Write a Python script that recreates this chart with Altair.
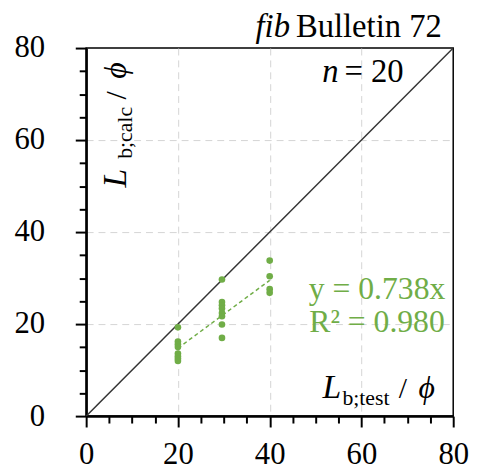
import altair as alt
import pandas as pd

# ---- data ----
test_x = [20, 20, 20, 20, 20, 20, 20, 20,
          29.6, 29.6, 29.6, 29.6, 29.6, 29.6, 29.6, 29.6,
          40, 40, 40, 40]
calc_y = [19.3, 16.2, 15.6, 15.0, 13.6, 13.0, 12.5, 12.0,
          29.7, 24.8, 24.1, 23.4, 22.4, 21.7, 19.9, 17.0,
          33.8, 30.4, 27.6, 26.8]
diag_x = [0, 80]
diag_y = [0, 80]
trend_x = [20, 40]
trend_y = [14.76, 29.52]
tick_values = list(range(0, 81, 5))

GREEN = "#70AD47"
FONT = "Liberation Serif"

pts = pd.DataFrame({"x": test_x, "y": calc_y})
diag = pd.DataFrame({"x": diag_x, "y": diag_y})
trend = pd.DataFrame({"x": trend_x, "y": trend_y})

major = "datum.value % 20 === 0"
inner = "datum.value % 20 === 0 && datum.value > 0 && datum.value < 80"


def make_axis(pad):
    return alt.Axis(
        values=tick_values,
        labelExpr=f"{major} ? datum.label : ''",
        labelFlush=False,
        labelOverlap=False,
        labelFont=FONT,
        labelFontSize=31,
        labelColor="black",
        labelPadding=pad,
        tickSize={"condition": {"test": major, "value": 11}, "value": 7},
        tickColor="black",
        tickWidth=2,
        domainColor="black",
        domainWidth=2.5,
        grid=True,
        gridColor="#d4d4d4",
        gridDash=[7, 5],
        gridWidth=1,
        gridOpacity={"condition": {"test": inner, "value": 1}, "value": 0},
        title=None,
    )


xs = alt.Scale(domain=[0, 80], nice=False, zero=False)
ys = alt.Scale(domain=[0, 80], nice=False, zero=False)
X = alt.X("x:Q", scale=xs, axis=make_axis(13))
Y = alt.Y("y:Q", scale=ys, axis=make_axis(31))

diag_layer = alt.Chart(diag).mark_line(color="#333333", strokeWidth=1.5, clip=True).encode(x=X, y=Y)
trend_layer = alt.Chart(trend).mark_line(color=GREEN, strokeWidth=1.5, strokeDash=[4, 3]).encode(x=X, y=Y)
pt_layer = alt.Chart(pts).mark_circle(color=GREEN, opacity=1, size=45).encode(x=X, y=Y)


def txt(s, px, py, size, color="black", style="normal", align="left", angle=0, baseline="alphabetic"):
    kw = dict(font=FONT, fontSize=size, color=color, fontStyle=style, align=align,
              baseline=baseline)
    if angle:
        kw["angle"] = angle
    return alt.Chart(pd.DataFrame({"a": [0]})).mark_text(**kw).encode(
        x=alt.value(px), y=alt.value(py), text=alt.value(s))


texts = [
    # title above plot
    txt("fib", 206, -11, 33, style="italic", align="right"),
    txt("Bulletin 72", 212, -11, 33),
    # n = 20
    txt("n", 255, 34, 33, style="italic", align="right"),
    txt("= 20", 261, 34, 33),
    # regression text
    txt("y = 0.738x", 294, 254, 32, color=GREEN, align="center"),
    txt("R² = 0.980", 294, 287, 32, color=GREEN, align="center"),
    # x label inside plot
    txt("L", 239, 354, 34, style="italic"),
    txt("b;test", 259, 361, 22),
    txt("/", 316, 354, 30),
    txt("\u03d5", 336, 354, 32, style="italic"),
    # y label inside plot (rotated)
    txt("L", 40, 141, 34, style="italic", angle=270),
    txt("b;calc", 46, 112, 22, angle=270),
    txt("/", 40, 52, 30, angle=270),
    txt("\u03d5", 40, 31, 32, style="italic", angle=270),
]

chart = alt.layer(diag_layer, trend_layer, pt_layer, *texts).properties(
    width=371,
    height=372,
    padding={"left": 79, "top": 38, "right": 20, "bottom": 54},
    autosize=alt.AutoSizeParams(type="none"),
).configure_view(stroke="black", strokeWidth=1.5)

chart.save("out.html", embed_options={"renderer": "svg", "actions": False})
